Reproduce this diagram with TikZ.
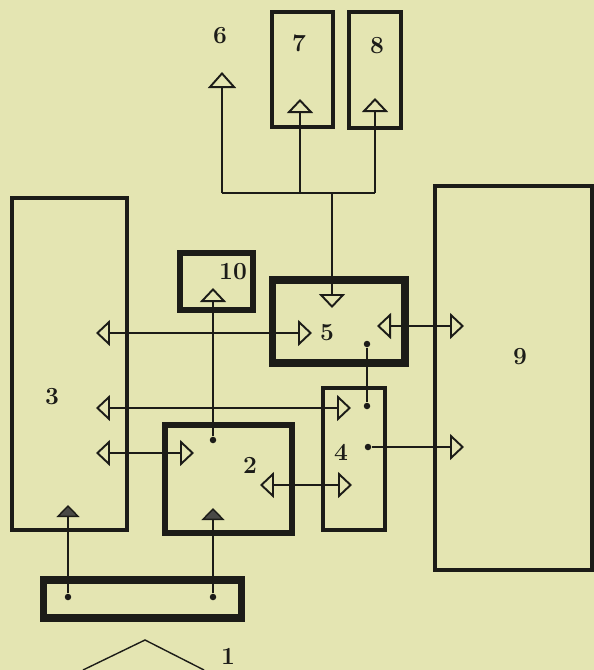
\documentclass[tikz,border=0pt]{standalone}
\usetikzlibrary{arrows.meta}
\definecolor{paper}{RGB}{228,229,178}
\definecolor{ink}{RGB}{28,28,24}

\begin{document}
\begin{tikzpicture}[x=0.02cm, y=-0.02cm,
        box/.style={draw=ink, inner sep=0pt, line width=2.4pt},
        num/.style={font=\fontsize{14}{16}\selectfont\bfseries, text=ink, inner sep=0pt},
        lnk/.style={draw=ink, line width=0.8pt},
        tri/.tip={Triangle[open, length=0.28cm, width=0.52cm, line width=1.1pt]},
        bigtri/.tip={Triangle[open, length=0.32cm, width=0.56cm, line width=1.1pt]},
        dark/.tip={Triangle[length=0.24cm, width=0.46cm, fill=ink!80]},
        dot/.style={circle, fill=ink, inner sep=0pt, minimum size=0.13cm}]
            \fill[paper] (0, 0) rectangle (594, 670);
            \useasboundingbox (0, 0) rectangle (594, 670);

            \node[box, minimum width=2.3cm, minimum height=6.64cm] (b3) at (69.5, 364) {};
            \node[box, line width=3pt, minimum width=1.46cm, minimum height=1.14cm] (b10) at (216.5, 281.5) {};
            \node[box, line width=4pt, minimum width=2.66cm, minimum height=1.66cm] (b5) at (338.5, 321.5) {};
            \node[box, minimum width=1.22cm, minimum height=2.3cm] (b7) at (302.5, 69.5) {};
            \node[box, minimum width=1.04cm, minimum height=2.32cm] (b8) at (375, 70) {};
            \node[box, minimum width=3.14cm, minimum height=7.68cm] (b9) at (513.5, 378) {};
            \node[box, minimum width=1.24cm, minimum height=2.84cm] (b4) at (354, 459) {};
            \node[box, line width=3pt, minimum width=2.54cm, minimum height=2.16cm] (b2) at (228.5, 479) {};
            \node[box, line width=4pt, minimum width=3.98cm, minimum height=0.76cm] (b1) at (142.5, 599) {};

            \node[num] (n1) at (228, 656) {1};
            \node[num] (n2) at (250, 465) {2};
            \node[num] (n3) at (52, 397) {3};
            \node[num] (n4) at (341, 452) {4};
            \node[num] (n5) at (327, 333) {5};
            \node[num] (n6) at (220, 36) {6};
            \node[num] (n7) at (299, 43) {7};
            \node[num] (n8) at (377, 46) {8};
            \node[num] (n9) at (520, 357) {9};
            \node[num] (n10) at (233, 272) {10};

            \coordinate (t6) at (222, 72);
            \coordinate (t7) at (300, 99);
            \coordinate (t8) at (375, 98);
            \coordinate (j6) at (222, 193);
            \coordinate (j7) at (300, 193);
            \coordinate (j8) at (375, 193);
            \coordinate (j5) at (332, 193);
            \coordinate (t5top) at (332, 308);
            \draw[lnk, -bigtri] (j6) -- (t6);
            \draw[lnk, -tri] (j7) -- (t7);
            \draw[lnk, -tri] (j8) -- (t8);
            \draw[lnk] (j6) -- (j8);
            \draw[lnk, -tri] (j5) -- (t5top);

            \coordinate (t3a) at (96, 333);
            \coordinate (t5a) at (312, 333);
            \draw[lnk, tri-tri] (t3a) -- (t5a);

            \coordinate (t5b) at (377, 326);
            \coordinate (t9a) at (464, 326);
            \draw[lnk, tri-tri] (t5b) -- (t9a);

            \coordinate (t3b) at (96, 408);
            \coordinate (t4a) at (351, 408);
            \draw[lnk, tri-tri] (t3b) -- (t4a);

            \coordinate (t3c) at (96, 453);
            \coordinate (t2a) at (194, 453);
            \draw[lnk, tri-tri] (t3c) -- (t2a);

            \coordinate (t2b) at (260, 485);
            \coordinate (t4b) at (352, 485);
            \draw[lnk, tri-tri] (t2b) -- (t4b);

            \node[dot] (d2) at (213, 440) {};
            \coordinate (t10) at (213, 288);
            \draw[lnk, -tri] (d2) -- (t10);

            \node[dot] (d5) at (367, 344) {};
            \node[dot] (d4a) at (367, 406) {};
            \draw[lnk] (d5) -- (d4a);

            \node[dot] (d4b) at (368, 447) {};
            \coordinate (t9b) at (464, 447);
            \draw[lnk, -tri] (d4b) -- (t9b);

            \node[dot] (d1a) at (68, 597) {};
            \node[dot] (d1b) at (213, 597) {};
            \coordinate (t3d) at (68, 505);
            \coordinate (t2c) at (213, 508);
            \draw[lnk, -dark] (d1a) -- (t3d);
            \draw[lnk, -dark] (d1b) -- (t2c);

            \coordinate (r1) at (83, 670);
            \coordinate (r2) at (145, 640);
            \coordinate (r3) at (204, 670);
            \draw[lnk] (r1) -- (r2) -- (r3);
        \end{tikzpicture}
\end{document}
